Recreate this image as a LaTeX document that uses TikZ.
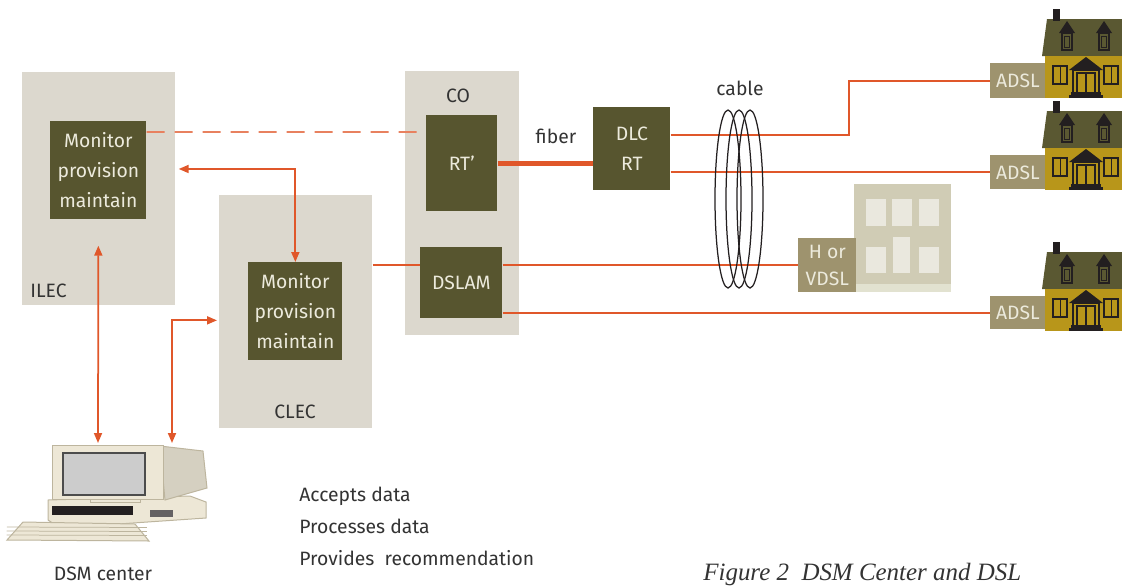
\documentclass[tikz,border=0pt]{standalone}
\usepackage{fontspec}
\setmainfont{Fira Sans}
\newfontfamily\captionfont{Liberation Serif}
\usetikzlibrary{arrows.meta}

\definecolor{boxgrey}{HTML}{DCD8CE}
\definecolor{olive}{HTML}{57552F}
\definecolor{tagbrown}{HTML}{9E936E}
\definecolor{wireorange}{HTML}{E0572A}
\definecolor{palelabel}{HTML}{ECEADC}
\definecolor{inkgrey}{HTML}{333333}
\definecolor{houseyellow}{HTML}{B8961A}
\definecolor{roofolive}{HTML}{5A5832}
\definecolor{housedark}{HTML}{231F20}
\definecolor{bldgfill}{HTML}{D0CCB5}
\definecolor{bldgwin}{HTML}{EAE8DE}
\definecolor{bldgbase}{HTML}{E2E2D0}
\definecolor{pcbeige}{HTML}{EDE7D6}
\definecolor{pcedge}{HTML}{BDB59E}

\newlength\pxlen
\setlength\pxlen{0.02cm}

\begin{document}
\begin{tikzpicture}[x=0.02cm, y=-0.02cm, >={Triangle[length=0.2cm, width=0.16cm]}]

    \tikzset{box size/.style 2 args={%
      minimum width=#1\pxlen,%
      minimum height=#2\pxlen}%
    };

    \tikzset{area/.style={fill=boxgrey, anchor=north west, inner sep=0pt}};
    \tikzset{unit/.style={%
      fill=olive,%
      text=palelabel,%
      anchor=north west,%
      inner sep=0pt,%
      align=center,%
      font=\fontsize{11}{17}\selectfont}%
    };
    \tikzset{tag/.style={unit, fill=tagbrown}};
    \tikzset{caption/.style={text=inkgrey, inner sep=0pt, font=\fontsize{11}{17}\selectfont}};
    \tikzset{wire/.style={draw=wireorange, line width=0.035cm}};
    \tikzset{link/.style={wire, <->}};
    \tikzset{cablewire/.style={draw=housedark, line width=0.025cm}};

    \tikzset{house/.pic={
      \fill [roofolive] (-3,-7) -- (2,-44) -- (77,-44) -- (77,-7) -- cycle;
      \fill [houseyellow] (0,-7) rectangle (77,35);
      \fill [housedark] (8,-54) rectangle (15,-42);
      \foreach \dx in {22,59} {
        \fill [housedark] (\dx-8,-30) -- (\dx,-42) -- (\dx+8,-30) -- cycle;
        \draw [housedark, line width=0.03cm] (\dx-5,-30) rectangle (\dx+5,-13);
        \draw [housedark, line width=0.02cm] (\dx-2.5,-27) rectangle (\dx+2.5,-16);
      }
      \fill [housedark] (24,7) -- (41,-6) -- (58,7) -- cycle;
      \draw [housedark, line width=0.03cm] (28,7) rectangle (54,30);
      \draw [housedark, line width=0.03cm] (32,10) rectangle (50,30) (41,10) -- (41,30);
      \fill [housedark] (26,29) rectangle (56,32);
      \fill [housedark] (24,32) rectangle (58,35);
      \foreach \wx in {8,59} {
        \draw [housedark, line width=0.03cm] (\wx,3) rectangle ++(14,18);
        \draw [housedark, line width=0.02cm] (\wx+7,3) -- ++(0,18);
      }
    }};

    \useasboundingbox (0,0) rectangle (1122,585);
    \clip (0,0) rectangle (1122,585);

    %%%%%%%%%%%%%%%
    %  carriers   %
    %%%%%%%%%%%%%%%
    \node [area, box size={153}{233}] (ilec) at (22,72) {};
    \node [area, box size={153}{233}] (clec) at (219,195) {};
    \node [area, box size={114}{264}] (co) at (405,71) {};
    \node [caption, anchor=base west] (ileclabel) at (30,297) {ILEC};
    \node [caption, anchor=base] (cleclabel) at (295,418) {CLEC};
    \node [caption, anchor=base] (colabel) at (458,102) {CO};

    \node [unit, box size={96}{98}] (ilecmon) at (50,121) {Monitor\\provision\\maintain};
    \node [unit, box size={94}{98}] (clecmon) at (248,262) {Monitor\\provision\\maintain};
    \node [unit, box size={71}{96}] (rtp) at (426,115) {RT’};
    \node [unit, box size={82}{71}] (dslam) at (420,247) {DSLAM};
    \node [unit, box size={77}{83}] (dlc) at (593,107) {DLC\\RT};

    %%%%%%%%%%%%%%%
    %  customers  %
    %%%%%%%%%%%%%%%
    \fill [bldgfill] (854,184) rectangle (951,292);
    \fill [bldgbase] (856,284) rectangle (951,292);
    \foreach \wx in {866,892,919}
      \fill [bldgwin] (\wx,199) rectangle ++(20,27);
    \fill [bldgwin] (866,247) rectangle ++(20,26);
    \fill [bldgwin] (893,237) rectangle ++(17,36);
    \fill [bldgwin] (919,247) rectangle ++(20,26);

    \pic at (1045,63) {house};
    \pic at (1045,155) {house};
    \pic at (1045,296) {house};

    \node [tag, box size={55}{35}] (adsla) at (990,63) {ADSL};
    \node [tag, box size={55}{34}] (adslb) at (990,155) {ADSL};
    \node [tag, box size={55}{33}] (adslc) at (990,296) {ADSL};
    \node [tag, box size={58}{54}, font=\fontsize{11}{15}\selectfont] (hvdsl) at (798,238) {H or\\VDSL};

    %%%%%%%%%%%%%%%
    %  lines      %
    %%%%%%%%%%%%%%%
    \draw [wire, draw=wireorange!75, dash pattern=on 0.36cm off 0.2cm]
      ([yshift=-0.22cm]ilecmon.north east) -- ([yshift=-0.34cm]rtp.north west);
    \draw [wire, line width=0.1cm] (rtp.east) -- (rtp.east -| dlc.west);
    \node [caption, anchor=base] (fiberlabel) at (556,143) {fiber};

    \draw [wire] ([yshift=-0.56cm]dlc.north east) -- ++(178,0) |- (adsla.west);
    \draw [wire] (adslb.west -| dlc.east) -- (adslb.west);
    \draw [wire] (hvdsl.west -| clec.east) -- (hvdsl.west -| dslam.west);
    \draw [wire] (hvdsl.west -| dslam.east) -- (hvdsl.west);
    \draw [wire] (adslc.west -| dslam.east) -- (adslc.west);

    \foreach \cx in {728,739,750}
      \draw [cablewire] (\cx,199) ellipse [x radius=13, y radius=89];
    \node [caption, anchor=base] (cablelabel) at (740,95) {cable};

    %%%%%%%%%%%%%%%
    %  DSM center %
    %%%%%%%%%%%%%%%
    \coordinate (pcleft) at (98,443);
    \coordinate (pcright) at (172,443);

    \filldraw [pcbeige, draw=pcedge, line width=0.02cm]
      (48,500) -- (190,496) -- (206,502) -- (206,518) -- (60,528) -- (48,520) -- cycle;
    \fill [housedark] (52,506) rectangle (133,515);
    \fill [housedark!70] (150,510) rectangle (173,517);
    \filldraw [pcbeige!90!black, draw=pcedge, line width=0.02cm]
      (160,446) -- (203,451) -- (207,488) -- (165,500) -- cycle;
    \filldraw [pcbeige, draw=pcedge, line width=0.02cm] (90,496) rectangle (140,502);
    \filldraw [pcbeige, draw=pcedge, line width=0.02cm] (52,445) rectangle (163,499);
    \filldraw [fill=black!20, draw=black!70, line width=0.04cm] (63,453) rectangle (145,495);
    \filldraw [pcbeige, draw=pcedge, line width=0.02cm]
      (7,540) -- (23,522) -- (135,524) -- (149,541) -- cycle;
    \foreach \ky in {527,531,535}
      \draw [pcedge, line width=0.015cm] (20-\ky/40,\ky) -- (138+\ky/60,\ky+0.5);

    \draw [link] ([xshift=0.06cm, yshift=-1.94cm]ilec.north east) -| (clecmon.north);
    \draw [link] ([yshift=-0.52cm]ilecmon.south) -- (pcleft);
    \draw [link] (pcright) |- ([xshift=-0.04cm, yshift=-0.17cm]clec.west);

    \node [caption, anchor=base] (dsmlabel) at (103,580) {DSM center};

    \node [caption, anchor=base west] (accepts) at (299,501) {Accepts data};
    \node [caption, anchor=base west] (processes) at (299,533) {Processes data};
    \node [caption, anchor=base west] (provides) at (299,565) {Provides\ \ recommendation};

    \node [anchor=base west, inner sep=0pt, text=inkgrey,
      font=\captionfont\itshape\fontsize{14.2}{16}\selectfont] (figcaption) at (703,580)
      {Figure 2\ \ DSM Center and DSL};

  \end{tikzpicture}
\end{document}
